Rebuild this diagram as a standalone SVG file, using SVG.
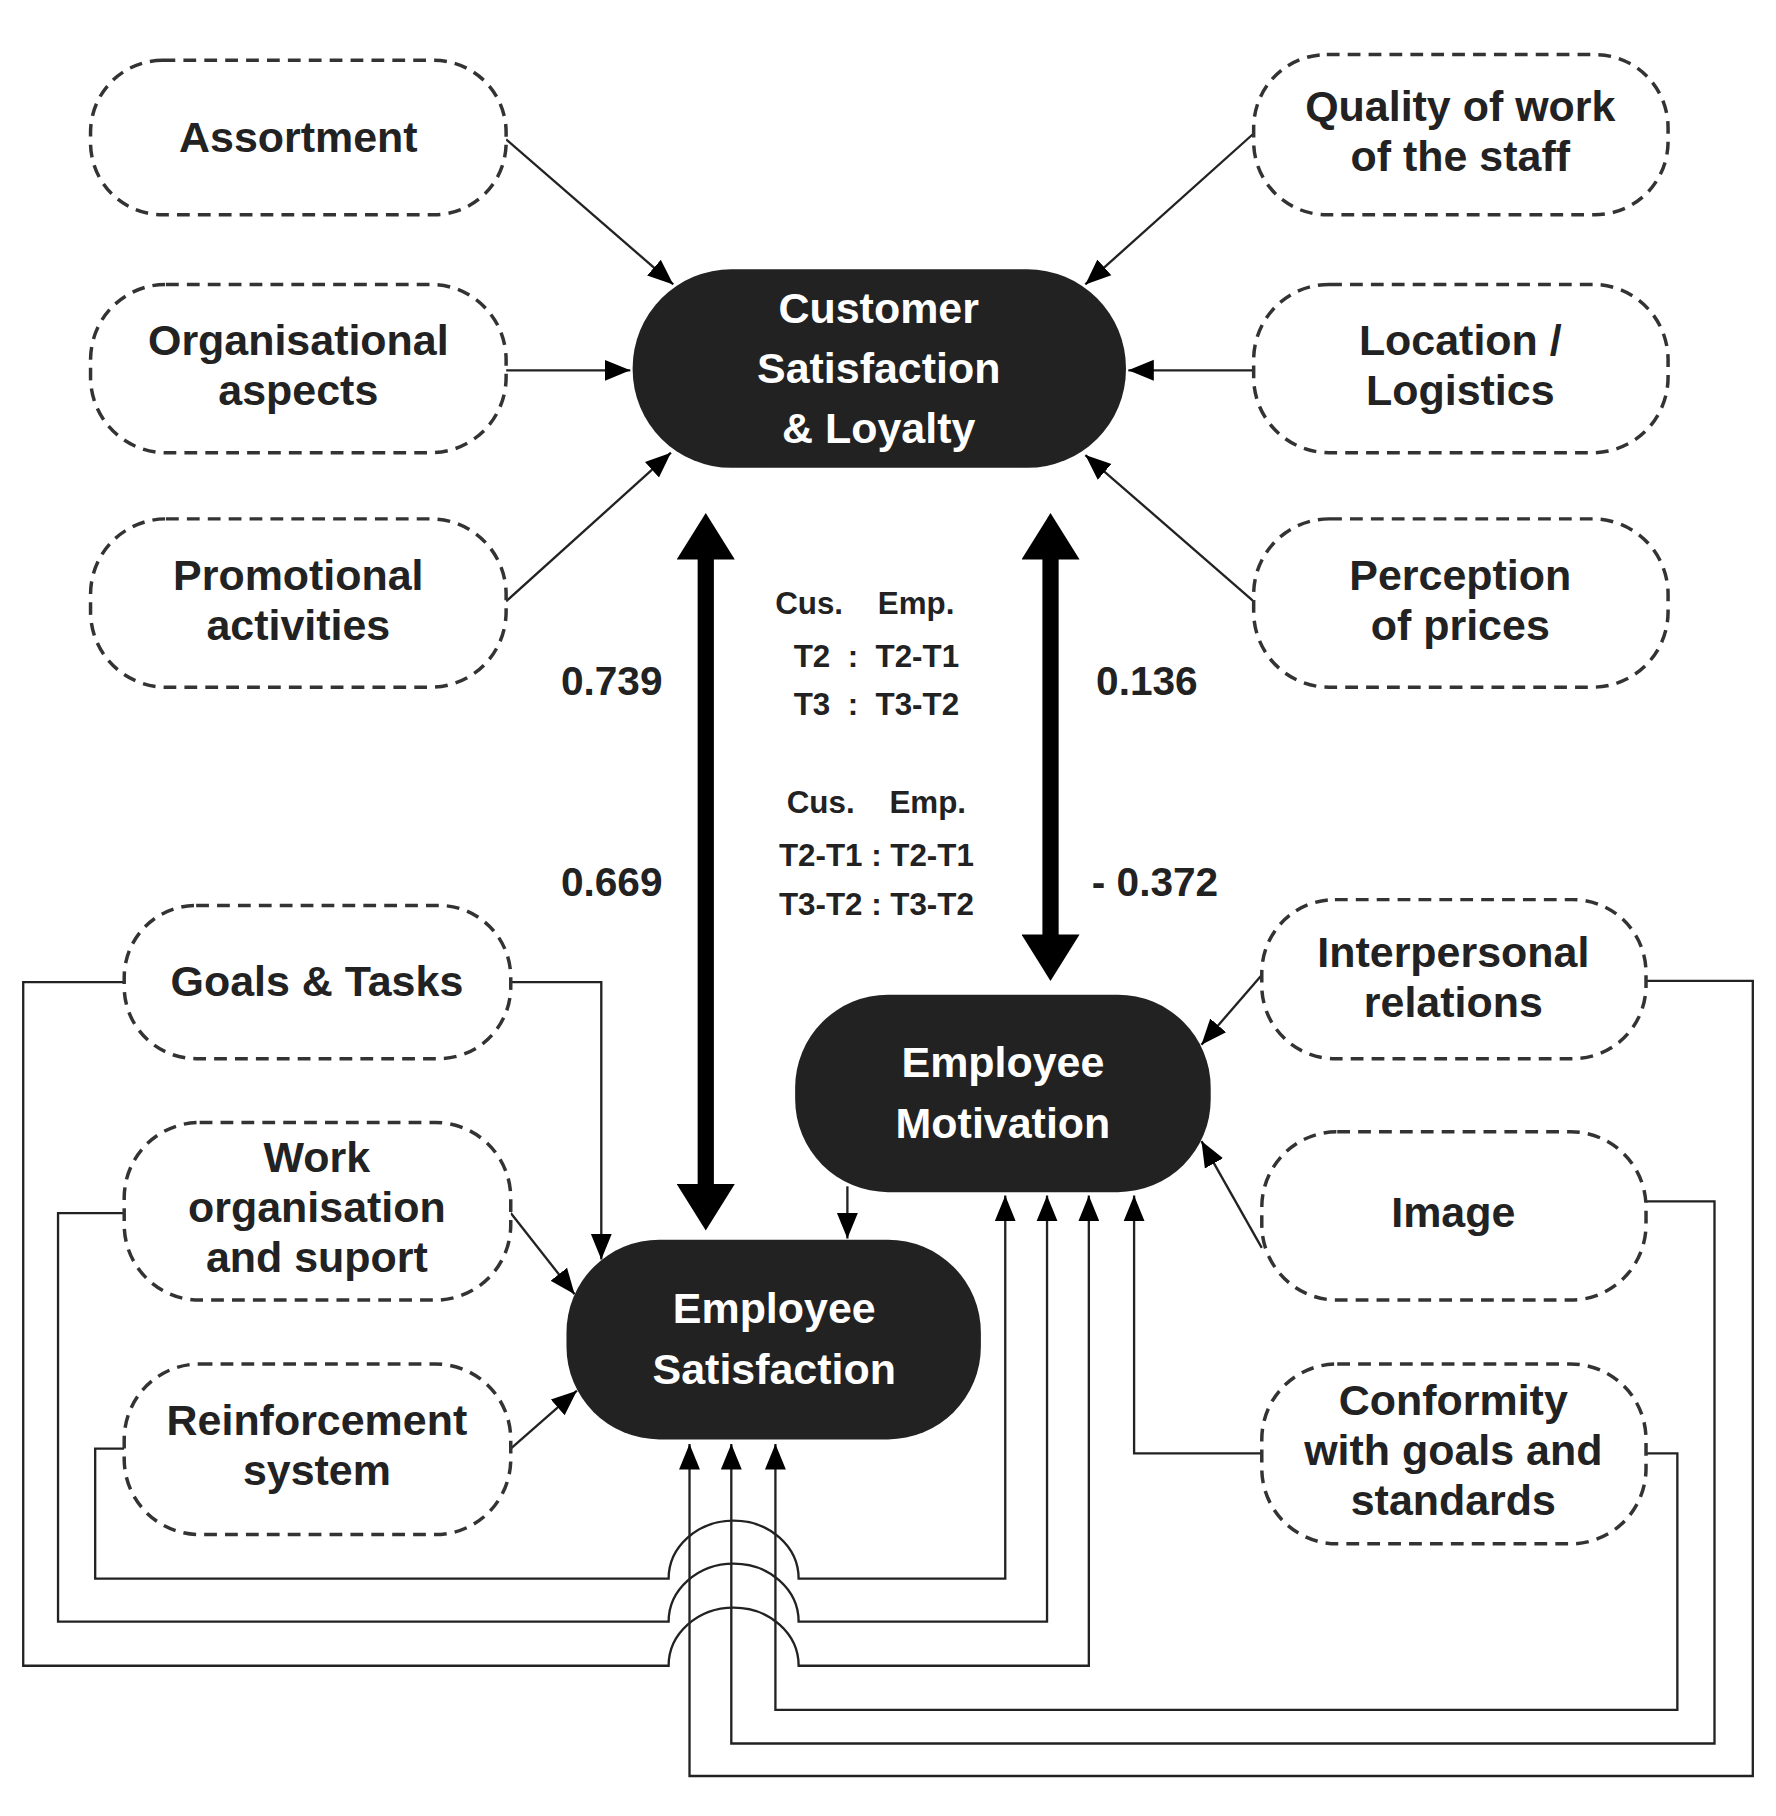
<svg xmlns="http://www.w3.org/2000/svg" width="1776" height="1816" viewBox="0 0 1776 1816">
<style>
.box{fill:#fff;stroke:#333;stroke-width:3;stroke-dasharray:11 7}
.dark{fill:#222;stroke:none}
.t{font-family:"Liberation Sans",Arial,sans-serif;font-weight:bold;font-size:37px;text-anchor:middle;fill:#222}
.w{fill:#fff}
.lbl{font-size:35px}
.mid{font-size:27px}
.c{fill:none;stroke:#222;stroke-width:2}
.thick{fill:none;stroke:#000;stroke-width:14}
</style>
<defs>
<marker id="a" markerUnits="userSpaceOnUse" markerWidth="24" markerHeight="20" refX="22" refY="10" orient="auto"><path d="M0,1 L22,10 L0,19 Z" fill="#000"/></marker>
<marker id="b" markerUnits="userSpaceOnUse" markerWidth="42" markerHeight="50" refX="5" refY="25" orient="auto-start-reverse"><path d="M0,0 L40,25 L0,50 Z" fill="#000"/></marker>
</defs>
<rect width="1776" height="1816" fill="#fff"/>
<g transform="scale(1.1608)">
<g id="connectors">
<path class="c" marker-end="url(#a)" d="M436,120 L580,245"/>
<path class="c" marker-end="url(#a)" d="M436,319 L543,319"/>
<path class="c" marker-end="url(#a)" d="M436,518 L578,390"/>
<path class="c" marker-end="url(#a)" d="M1080,115 L935,245"/>
<path class="c" marker-end="url(#a)" d="M1080,319 L972,319"/>
<path class="c" marker-end="url(#a)" d="M1080,518 L935,392"/>
<path class="c" marker-end="url(#a)" d="M440,846 L518,846 L518,1085"/>
<path class="c" marker-end="url(#a)" d="M440,1045 L495,1115"/>
<path class="c" marker-end="url(#a)" d="M440,1248 L497,1198"/>
<path class="c" marker-end="url(#a)" d="M1087,840 L1035,900"/>
<path class="c" marker-end="url(#a)" d="M1087,1075 L1035,983"/>
<path class="c" marker-end="url(#a)" d="M730,1022 L730,1067"/>
<path class="c" marker-end="url(#a)" d="M1087,1252 L977,1252 L977,1030"/>
<path class="c" marker-end="url(#a)" d="M107,1248 L82,1248 L82,1360 L576,1360 A56,50 0 0 1 688,1360 L866,1360 L866,1030"/>
<path class="c" marker-end="url(#a)" d="M107,1045 L50,1045 L50,1397 L576,1397 A56,50 0 0 1 688,1397 L902,1397 L902,1030"/>
<path class="c" marker-end="url(#a)" d="M107,846 L20,846 L20,1435 L576,1435 A56,50 0 0 1 688,1435 L938,1435 L938,1030"/>
<path class="c" marker-end="url(#a)" d="M1418,1252 L1445,1252 L1445,1473 L668,1473 L668,1244"/>
<path class="c" marker-end="url(#a)" d="M1418,1035 L1477,1035 L1477,1502 L630,1502 L630,1244"/>
<path class="c" marker-end="url(#a)" d="M1418,845 L1510,845 L1510,1530 L594,1530 L594,1244"/>
<path class="thick" marker-start="url(#b)" marker-end="url(#b)" d="M608,477 L608,1025"/>
<path class="thick" marker-start="url(#b)" marker-end="url(#b)" d="M905,477 L905,810"/>
</g>
<g id="assortment"><rect class="box" x="78" y="52" width="358" height="133" rx="62"/><text class="t" x="257" y="131">Assortment</text></g>
<g id="organisational"><rect class="box" x="78" y="245" width="358" height="145" rx="65"/><text class="t" x="257" y="306">Organisational</text><text class="t" x="257" y="349">aspects</text></g>
<g id="promotional"><rect class="box" x="78" y="447" width="358" height="145" rx="65"/><text class="t" x="257" y="508">Promotional</text><text class="t" x="257" y="551">activities</text></g>
<g id="quality"><rect class="box" x="1080" y="47" width="357" height="138" rx="63"/><text class="t" x="1258" y="104">Quality of work</text><text class="t" x="1258" y="147">of the staff</text></g>
<g id="location"><rect class="box" x="1080" y="245" width="357" height="145" rx="65"/><text class="t" x="1258" y="306">Location /</text><text class="t" x="1258" y="349">Logistics</text></g>
<g id="perception"><rect class="box" x="1080" y="447" width="357" height="145" rx="65"/><text class="t" x="1258" y="508">Perception</text><text class="t" x="1258" y="551">of prices</text></g>
<g id="customer"><rect class="dark" x="545" y="232" width="425" height="171" rx="85"/><text class="t w" x="757" y="278">Customer</text><text class="t w" x="757" y="330">Satisfaction</text><text class="t w" x="757" y="382">&amp; Loyalty</text></g>
<g id="goals"><rect class="box" x="107" y="780" width="333" height="132" rx="62"/><text class="t" x="273" y="858">Goals &amp; Tasks</text></g>
<g id="work"><rect class="box" x="107" y="967" width="333" height="153" rx="65"/><text class="t" x="273" y="1010">Work</text><text class="t" x="273" y="1053">organisation</text><text class="t" x="273" y="1096">and suport</text></g>
<g id="reinforcement"><rect class="box" x="107" y="1175" width="333" height="147" rx="65"/><text class="t" x="273" y="1236">Reinforcement</text><text class="t" x="273" y="1279">system</text></g>
<g id="interpersonal"><rect class="box" x="1087" y="775" width="331" height="137" rx="63"/><text class="t" x="1252" y="833">Interpersonal</text><text class="t" x="1252" y="876">relations</text></g>
<g id="image"><rect class="box" x="1087" y="975" width="331" height="145" rx="65"/><text class="t" x="1252" y="1057">Image</text></g>
<g id="conformity"><rect class="box" x="1087" y="1175" width="331" height="155" rx="65"/><text class="t" x="1252" y="1219">Conformity</text><text class="t" x="1252" y="1262">with goals and</text><text class="t" x="1252" y="1305">standards</text></g>
<g id="motivation"><rect class="dark" x="685" y="857" width="358" height="170" rx="80"/><text class="t w" x="864" y="928">Employee</text><text class="t w" x="864" y="980">Motivation</text></g>
<g id="satisfaction"><rect class="dark" x="488" y="1068" width="357" height="172" rx="80"/><text class="t w" x="667" y="1140">Employee</text><text class="t w" x="667" y="1192">Satisfaction</text></g>
<g id="labels">
<text class="t lbl" x="527" y="599">0.739</text>
<text class="t lbl" x="527" y="772">0.669</text>
<text class="t lbl" x="988" y="599">0.136</text>
<text class="t lbl" x="995" y="772">- 0.372</text>
<text class="t mid" x="745" y="529" xml:space="preserve">Cus.    Emp.</text>
<text class="t mid" x="755" y="575" xml:space="preserve">T2  :  T2-T1</text>
<text class="t mid" x="755" y="616" xml:space="preserve">T3  :  T3-T2</text>
<text class="t mid" x="755" y="700" xml:space="preserve">Cus.    Emp.</text>
<text class="t mid" x="755" y="746">T2-T1 : T2-T1</text>
<text class="t mid" x="755" y="788">T3-T2 : T3-T2</text>
</g>
</g>
</svg>
